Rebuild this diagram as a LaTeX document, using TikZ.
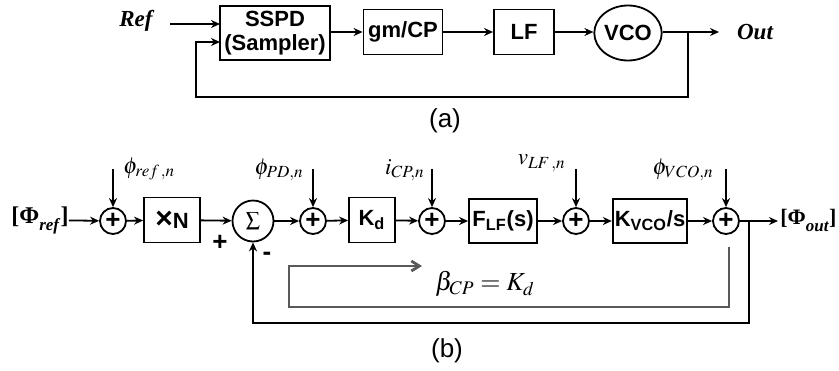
\documentclass[tikz,border=0pt]{standalone}
\usepackage{mathptmx}
\usepackage{fontspec}
\setmainfont{Liberation Serif}
\setsansfont{Liberation Sans}
\usetikzlibrary{arrows.meta, shapes.geometric}
\tikzstyle{blockBox}=[draw, line width=0.9pt, inner sep=1pt, align=center, font=\sffamily\bfseries\fontsize{11}{12}\selectfont]
\tikzstyle{sumNode}=[draw, circle, line width=0.9pt, minimum size=13pt, inner sep=0pt, font=\sffamily\bfseries\fontsize{13}{13}\selectfont]
\tikzstyle{invisNode}=[inner sep=0pt]
\tikzstyle{noiseLabel}=[inner sep=0pt, font=\fontsize{11.5}{12}\selectfont]
\tikzstyle{sigTransition}=[-{Stealth[length=4.5pt,width=4pt]}, line width=0.9pt]
\tikzstyle{gainPath}=[-{Straight Barb[length=4pt,width=5pt]}, line width=1.4pt, draw=black!65]
\newcommand{\phaseSig}[1]{[Φ\raisebox{-3.5pt}{\fontsize{8.5}{9}\selectfont\textit{#1}}]}

\begin{document}
\begin{tikzpicture}[x=0.5pt, y=-0.5pt]
        \useasboundingbox (0,0) rectangle (839,370);

        % (a) PLL block diagram
        \node[invisNode, font=\bfseries\itshape\fontsize{11.5}{12}\selectfont] (ref) at (136, 21) {Ref};
        \node[blockBox, minimum width=55pt, minimum height=27pt] (sspd) at (275, 33) {SSPD\\(Sampler)};
        \node[blockBox, minimum width=39.5pt, minimum height=22.5pt] (gmcp) at (403, 32) {gm/CP};
        \node[blockBox, minimum width=30pt, minimum height=22.5pt] (lf) at (524, 32) {LF};
        \node[blockBox, ellipse, minimum width=32.5pt, minimum height=27.5pt, inner sep=0pt] (vco) at (628, 33) {VCO};
        \node[invisNode, font=\bfseries\itshape\fontsize{11.5}{12}\selectfont] (out) at (755, 32) {Out};
        \coordinate (refStart) at (170, 24);
        \coordinate (refIn) at (220, 24);
        \coordinate (fbIn) at (220, 42);
        \coordinate (outEnd) at (719, 32);
        \coordinate (tap) at (688, 32);

        \draw[sigTransition] (refStart) -- (refIn);
        \draw[sigTransition] (sspd.east |- gmcp) -- (gmcp);
        \draw[sigTransition] (gmcp) -- (lf);
        \draw[sigTransition] (lf) -- (vco.west |- lf);
        \draw[sigTransition] (vco.east |- tap) -- (outEnd);
        \draw[sigTransition] (tap) -- (688, 97) -- (196, 97) -- (196, 42) -- (fbIn);

        \node[invisNode, font=\sffamily\fontsize{13}{13}\selectfont] (capA) at (445, 121) {(a)};

        % (b) phase-domain model
        \node[invisNode, font=\bfseries\fontsize{12}{12}\selectfont] (phiRef) at (40, 220) {\phaseSig{ref}};
        \node[sumNode] (s1) at (113, 221) {+};
        \node[blockBox, minimum width=28pt, minimum height=22.5pt] (mulN) at (172, 220) {{\fontsize{15}{15}\selectfont ×}N};
        \node[draw, circle, line width=0.9pt, minimum size=20.5pt, inner sep=0pt] (sigma) at (253, 221) {$\sum$};
        \node[sumNode] (s2) at (313, 221) {+};
        \node[blockBox, minimum width=23pt, minimum height=22.5pt] (kd) at (372, 220) {K\textsubscript{d}};
        \node[sumNode] (s3) at (432, 221) {+};
        \node[blockBox, minimum width=34pt, minimum height=22pt] (flf) at (503, 221) {F\textsubscript{LF}(s)};
        \node[sumNode] (s4) at (576, 221) {+};
        \node[blockBox, minimum width=37pt, minimum height=22pt] (kvco) at (650, 221) {K\textsubscript{VCO}/s};
        \node[sumNode] (s5) at (726, 221) {+};
        \node[invisNode, anchor=west, font=\bfseries\fontsize{11}{12}\selectfont] (phiOut) at (780, 220) {\phaseSig{out}};

        \node[noiseLabel, anchor=west] (nRef) at (123, 169) {$\phi_{ref\,,n}$};
        \node[noiseLabel, anchor=east] (nPD) at (304, 170) {$\phi_{PD,n}$};
        \node[noiseLabel, anchor=east] (nCP) at (425, 170) {$i_{CP,n}$};
        \node[noiseLabel, anchor=east] (nLF) at (566, 163) {$v_{LF\,,n}$};
        \node[noiseLabel, anchor=east] (nVCO) at (714, 170) {$\phi_{VCO,n}$};

        \node[invisNode, font=\sffamily\bfseries\fontsize{13}{13}\selectfont] (plusSign) at (220, 243) {+};
        \node[invisNode, font=\sffamily\bfseries\fontsize{13}{13}\selectfont] (minusSign) at (267, 256) {-};

        \coordinate (outEndB) at (778, 221);
        \coordinate (tapB) at (749, 221);

        \draw[sigTransition] (phiRef) -- (s1);
        \draw[sigTransition] (s1) -- (mulN);
        \draw[sigTransition] (mulN) -- (sigma);
        \draw[sigTransition] (sigma) -- (s2);
        \draw[sigTransition] (s2) -- (kd);
        \draw[sigTransition] (kd) -- (s3);
        \draw[sigTransition] (s3) -- (flf);
        \draw[sigTransition] (flf) -- (s4);
        \draw[sigTransition] (s4) -- (kvco);
        \draw[sigTransition] (kvco) -- (s5);
        \draw[sigTransition] (s5) -- (outEndB);

        \foreach \s in {s1, s2, s3, s4, s5}
            \draw[sigTransition] (\s.north) ++(0, -38) -- (\s.north);

        \draw[sigTransition] (tapB) -- (749, 323) -| (sigma.south);

        % loop gain path
        \coordinate (gainStart) at (729, 247);
        \coordinate (gainEnd) at (422, 266);
        \draw[gainPath] (gainStart) -- (729, 307) -- (289, 307) -- (289, 266) -- (gainEnd);
        \node[invisNode, font=\fontsize{13}{13}\selectfont] (beta) at (485, 284) {$\beta_{CP} = K_d$};

        \node[invisNode, font=\sffamily\fontsize{13}{13}\selectfont] (capB) at (447, 351) {(b)};

\end{tikzpicture}
\end{document}
